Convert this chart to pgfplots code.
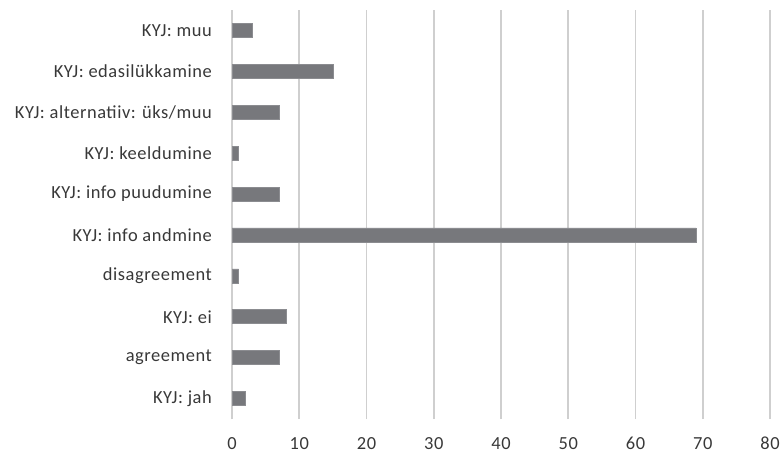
\documentclass[border=0pt]{standalone}
\usepackage{pgfplots}
\pgfplotsset{compat=1.18}
\usepackage{fontspec}
\setmainfont{Carlito}[LetterSpace=3]

\definecolor{barfill}{HTML}{77787C}
\definecolor{gridgray}{HTML}{CFCFCF}
\definecolor{labelgray}{HTML}{383838}

\begin{document}
\begin{tikzpicture}
\useasboundingbox (0,0) rectangle (782bp,455bp);
\begin{axis}[
  at={(232bp,36bp)}, anchor=south west,
  scale only axis,
  width=538bp, height=409bp,
  xbar, bar width=14bp,
  xmin=0, xmax=80,
  ymin=-0.5, ymax=9.5,
  xtick={0,10,...,80},
  ytick={0,...,9},
  yticklabels={KYJ: jah, agreement, KYJ: ei, disagreement, KYJ: info andmine, KYJ: info puudumine, KYJ: keeldumine, KYJ: alternatiiv: üks/muu, KYJ: edasilükkamine, KYJ: muu},
  axis line style={draw=none},
  axis y line*=left,
  major tick length=0pt,
  xmajorgrids,
  grid style={gridgray, line width=1.6bp},
  ticklabel style={font=\fontsize{18.5}{22}\selectfont, text=labelgray},
  /pgf/number format/assume math mode=true,
  xticklabel style={anchor=north, inner sep=0pt, yshift=-18bp},
  yticklabel style={anchor=east, inner sep=0pt, xshift=-20bp},
  clip=false,
]
\draw[gridgray, line width=1.6bp] (axis cs:0,-0.5) -- (axis cs:0,9.5);
\addplot[fill=barfill, draw=barfill!85!white, line width=0.6bp] coordinates {
  (2,0) (7,1) (8,2) (1,3) (69,4) (7,5) (1,6) (7,7) (15,8) (3,9)
};
\end{axis}
\end{tikzpicture}
\end{document}
